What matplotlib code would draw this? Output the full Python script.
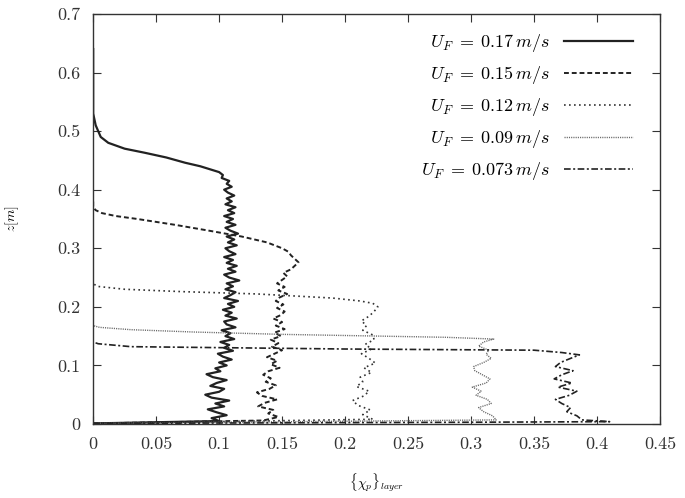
import numpy as np
import matplotlib
matplotlib.use("Agg")
from matplotlib import pyplot as plt

plt.rcParams['font.family'] = 'serif'
plt.rcParams['font.serif'] = ['cmr10', 'DejaVu Serif']
plt.rcParams['mathtext.fontset'] = 'cm'
plt.rcParams['axes.formatter.use_mathtext'] = True

# U_F = 0.17 m/s
z1 = [0.001, 0.005, 0.010, 0.015, 0.020, 0.025, 0.030, 0.035, 0.040, 0.045, 0.050,
      0.055, 0.060, 0.065, 0.070, 0.075, 0.080, 0.085, 0.090, 0.095, 0.100,
      0.105, 0.110, 0.115, 0.120, 0.125, 0.130, 0.135, 0.140, 0.145, 0.150,
      0.155, 0.160, 0.165, 0.170, 0.175, 0.180, 0.185, 0.190, 0.195, 0.200,
      0.205, 0.210, 0.215, 0.220, 0.225, 0.230, 0.235, 0.240, 0.245, 0.250,
      0.255, 0.260, 0.265, 0.270, 0.275, 0.280, 0.285, 0.290, 0.295, 0.300,
      0.305, 0.310, 0.315, 0.320, 0.325, 0.330, 0.335, 0.340, 0.345, 0.350,
      0.355, 0.360, 0.365, 0.370, 0.375, 0.380, 0.385, 0.390, 0.395, 0.400,
      0.405, 0.410, 0.415, 0.420, 0.425, 0.430, 0.440, 0.446, 0.455, 0.463,
      0.470, 0.480, 0.490, 0.500, 0.510, 0.520, 0.530, 0.560, 0.600, 0.640]
x1 = [0.0, 0.100, 0.094, 0.106, 0.098, 0.091, 0.104, 0.097, 0.108, 0.094, 0.089,
      0.100, 0.104, 0.093, 0.098, 0.106, 0.095, 0.090, 0.101, 0.097, 0.106,
      0.100, 0.110, 0.103, 0.099, 0.111, 0.104, 0.108, 0.101, 0.112, 0.105,
      0.109, 0.102, 0.113, 0.106, 0.104, 0.114, 0.105, 0.110, 0.103, 0.112,
      0.107, 0.115, 0.104, 0.109, 0.113, 0.105, 0.111, 0.106, 0.116, 0.108,
      0.104, 0.113, 0.107, 0.114, 0.106, 0.111, 0.104, 0.113, 0.108, 0.105,
      0.114, 0.107, 0.112, 0.106, 0.115, 0.109, 0.105, 0.113, 0.106, 0.111,
      0.104, 0.112, 0.107, 0.113, 0.105, 0.110, 0.106, 0.112, 0.107, 0.104,
      0.110, 0.106, 0.108, 0.102, 0.103, 0.100, 0.085, 0.073, 0.058, 0.041,
      0.025, 0.012, 0.006, 0.004, 0.002, 0.001, 0.0, 0.0, 0.0, 0.0]

# U_F = 0.15 m/s
z2 = [0.001, 0.006, 0.012, 0.018, 0.024, 0.030, 0.036, 0.042, 0.048, 0.054, 0.060,
      0.066, 0.072, 0.078, 0.084, 0.090, 0.096, 0.102, 0.108, 0.114, 0.120,
      0.126, 0.132, 0.138, 0.144, 0.150, 0.156, 0.162, 0.168, 0.174, 0.180,
      0.186, 0.192, 0.198, 0.204, 0.210, 0.216, 0.222, 0.228, 0.234, 0.240,
      0.246, 0.252, 0.258, 0.264, 0.270, 0.276, 0.282, 0.288, 0.294, 0.300,
      0.310, 0.320, 0.330, 0.340, 0.350, 0.355, 0.360, 0.365, 0.370, 0.380]
x2 = [0.0, 0.135, 0.147, 0.139, 0.143, 0.131, 0.136, 0.146, 0.134, 0.130, 0.140,
      0.145, 0.137, 0.141, 0.135, 0.139, 0.148, 0.141, 0.146, 0.138, 0.144,
      0.150, 0.142, 0.147, 0.141, 0.149, 0.144, 0.152, 0.145, 0.150, 0.143,
      0.149, 0.152, 0.146, 0.151, 0.145, 0.148, 0.154, 0.147, 0.152, 0.146,
      0.150, 0.154, 0.151, 0.157, 0.160, 0.163, 0.160, 0.157, 0.155, 0.150,
      0.138, 0.118, 0.092, 0.065, 0.035, 0.018, 0.007, 0.002, 0.0, 0.0]

# U_F = 0.12 m/s
z3 = [0.001, 0.008, 0.016, 0.024, 0.032, 0.040, 0.048, 0.056, 0.064, 0.072, 0.080,
      0.088, 0.096, 0.104, 0.112, 0.120, 0.128, 0.136, 0.144, 0.152, 0.160,
      0.168, 0.176, 0.184, 0.192, 0.200, 0.206, 0.210, 0.215, 0.222, 0.226,
      0.230, 0.235, 0.240]
x3 = [0.0, 0.222, 0.214, 0.220, 0.210, 0.206, 0.215, 0.219, 0.209, 0.214, 0.212,
      0.221, 0.215, 0.224, 0.219, 0.213, 0.221, 0.216, 0.223, 0.222, 0.214,
      0.217, 0.213, 0.219, 0.223, 0.226, 0.222, 0.212, 0.190, 0.130, 0.070,
      0.025, 0.003, 0.0]

# U_F = 0.09 m/s
z4 = [0.001, 0.007, 0.014, 0.021, 0.028, 0.035, 0.042, 0.049, 0.056, 0.063, 0.070,
      0.077, 0.084, 0.091, 0.098, 0.105, 0.112, 0.119, 0.126, 0.133, 0.140,
      0.145, 0.148, 0.153, 0.157, 0.161, 0.165, 0.168]
x4 = [0.0, 0.320, 0.317, 0.310, 0.306, 0.316, 0.313, 0.304, 0.308, 0.301, 0.312,
      0.315, 0.309, 0.303, 0.302, 0.310, 0.316, 0.312, 0.314, 0.306, 0.310,
      0.318, 0.280, 0.150, 0.080, 0.030, 0.005, 0.0]

# U_F = 0.073 m/s
z5 = [0.001, 0.003, 0.004, 0.007, 0.014, 0.021, 0.028, 0.035, 0.042, 0.049, 0.056,
      0.063, 0.070, 0.077, 0.084, 0.091, 0.098, 0.105, 0.112, 0.118, 0.122,
      0.126, 0.128, 0.132, 0.137, 0.140]
x5 = [0.0, 0.300, 0.410, 0.388, 0.384, 0.376, 0.379, 0.372, 0.367, 0.378, 0.384,
      0.369, 0.380, 0.366, 0.372, 0.381, 0.367, 0.371, 0.379, 0.386, 0.372,
      0.350, 0.200, 0.030, 0.004, 0.0]

labels = [r'$U_F\;=\;0.17\,m/s$', r'$U_F\;=\;0.15\,m/s$', r'$U_F\;=\;0.12\,m/s$',
          r'$U_F\;=\;0.09\,m/s$', r'$U_F\;=\;0.073\,m/s$']

fig = plt.figure(figsize=(6.85, 4.98), dpi=100)
ax = fig.add_axes([0.136, 0.1486, 0.8275, 0.8234])

ax.plot(x1, z1, color='#222222', lw=1.6, ls='-', label=labels[0])
ax.plot(x2, z2, color='#222222', lw=1.4, ls=(0, (2.5, 1.5)), label=labels[1])
ax.plot(x3, z3, color='#333333', lw=1.2, ls=(0, (1, 2)), label=labels[2])
ax.plot(x4, z4, color='#666666', lw=1.0, ls=(0, (0.8, 0.8)), label=labels[3])
ax.plot(x5, z5, color='#222222', lw=1.2, ls=(0, (4, 1.5, 1.2, 1.5)), label=labels[4])

ax.set_xlim(0, 0.45)
ax.set_ylim(0, 0.7)
ax.set_xticks(np.arange(0, 0.451, 0.05))
ax.set_xticklabels(['0', '0.05', '0.1', '0.15', '0.2', '0.25', '0.3', '0.35', '0.4', '0.45'])
ax.set_yticks(np.arange(0, 0.71, 0.1))
ax.set_yticklabels(['0', '0.1', '0.2', '0.3', '0.4', '0.5', '0.6', '0.7'])
ax.tick_params(direction='in', top=True, right=True, labelsize=13, length=6, pad=9, colors='#333333')
for s in ax.spines.values():
    s.set_color('#333333')
    s.set_linewidth(1.0)

ax.set_xlabel(r'$\{\chi_p\}_{layer}$', fontsize=10, labelpad=14)
ax.set_ylabel(r'$z[m]$', fontsize=10, labelpad=26)

ax.legend(loc='upper right', frameon=False, markerfirst=False, fontsize=13,
          handlelength=3.8, labelspacing=0.55, borderaxespad=0.4, handletextpad=0.8,
          bbox_to_anchor=(0.978, 0.99))

plt.savefig('out.png', dpi=100)
